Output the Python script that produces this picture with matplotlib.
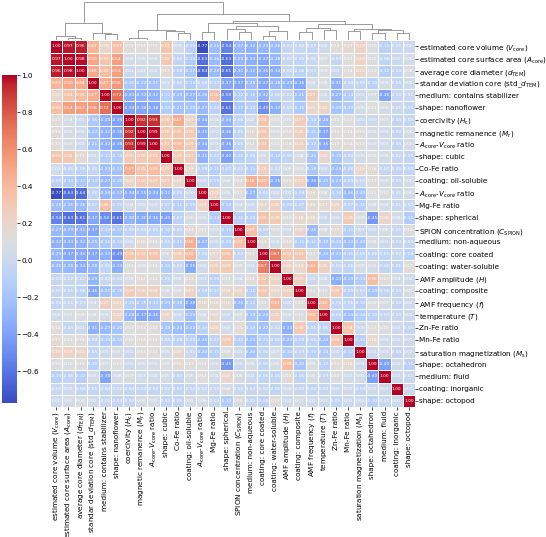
import numpy as np
import matplotlib
matplotlib.use("Agg")
import matplotlib.pyplot as plt
import seaborn as sns

labels = [
    "estimated core volume ($V_{\\mathrm{core}}$)",
    "estimated core surface area ($A_{\\mathrm{core}}$)",
    "average core diameter ($d_{\\mathrm{TEM}}$)",
    "standar deviation core (std_$d_{\\mathrm{TEM}}$)",
    "medium: contains stabilizer",
    "shape: nanoflower",
    "coercivity ($H_{\\mathrm{c}}$)",
    "magnetic remanence ($M_{\\mathrm{r}}$)",
    "$A_{\\mathrm{core}}$-$V_{\\mathrm{core}}$ ratio",
    "shape: cubic",
    "Co-Fe ratio",
    "coating: oil-soluble",
    "$A_{\\mathrm{core}}$-$V_{\\mathrm{core}}$ ratio",
    "Mg-Fe ratio",
    "shape: spherical",
    "SPION concentration ($C_{\\mathrm{SPION}}$)",
    "medium: non-aqueous",
    "coating: core coated",
    "coating: water-soluble",
    "AMF amplitude ($H$)",
    "coating: composite",
    "AMF frequency ($f$)",
    "temperature ($T$)",
    "Zn-Fe ratio",
    "Mn-Fe ratio",
    "saturation magnetization ($M_{\\mathrm{s}}$)",
    "shape: octahedron",
    "medium: fluid",
    "coating: inorganic",
    "shape: octopod",
]

# lower triangle of the correlation matrix, row i holds columns 0..i-1
lower = [
    [],
    [0.97],
    [0.96, 0.98],
    [0.43, 0.50, 0.48],
    [0.20, 0.33, 0.38, 0.47],
    [0.37, 0.54, 0.53, 0.56, 0.72],
    [0.13, 0.04, 0.01, -0.16, -0.33, -0.39],
    [0.14, 0.05, 0.03, -0.22, -0.32, -0.38, 0.92],
    [0.13, 0.05, 0.02, -0.21, -0.32, -0.38, 0.93, 0.99],
    [0.33, 0.32, 0.17, 0.03, -0.12, -0.13, 0.30, 0.30, 0.31],
    [0.03, -0.05, -0.08, -0.05, -0.23, -0.21, 0.47, 0.35, 0.39, 0.29],
    [-0.09, -0.13, -0.17, -0.14, -0.27, -0.20, 0.21, 0.30, 0.29, 0.27, 0.19],
    [-0.77, -0.63, -0.64, -0.06, -0.28, -0.27, -0.34, -0.35, -0.34, -0.31, -0.08, 0.00],
    [-0.25, -0.26, -0.26, -0.07, 0.36, -0.09, 0.04, 0.02, 0.03, -0.07, -0.11, -0.09, 0.23],
    [-0.54, -0.63, -0.61, -0.37, -0.50, -0.61, -0.30, -0.36, -0.36, -0.40, -0.07, 0.06, 0.05, -0.14],
    [-0.27, -0.29, -0.31, -0.37, -0.12, -0.17, -0.06, -0.05, -0.06, -0.10, -0.03, 0.14, 0.11, 0.04,
     -0.11],
    [-0.32, -0.33, -0.32, -0.25, -0.16, -0.12, 0.02, 0.16, 0.12, -0.06, -0.11, 0.46, -0.27, 0.00,
     -0.10, 0.37],
    [-0.29, -0.37, -0.36, -0.37, -0.32, -0.49, 0.34, 0.32, 0.33, 0.06, 0.28, 0.40, -0.06, 0.17,
     0.35, -0.04, 0.13],
    [-0.26, -0.28, -0.34, -0.28, -0.06, -0.33, 0.11, 0.09, 0.11, -0.14, -0.02, -0.35, 0.02, 0.25,
     0.29, 0.09, 0.04, 0.67],
    [-0.03, -0.02, -0.02, -0.29, -0.02, -0.03, 0.10, 0.14, 0.13, -0.06, 0.06, 0.13, 0.01, -0.09,
     0.11, 0.04, 0.14, 0.32, 0.22],
    [-0.02, -0.05, -0.08, -0.36, -0.21, -0.15, 0.27, 0.26, 0.24, 0.08, 0.09, 0.23, -0.08, -0.07,
     0.18, 0.20, -0.11, 0.31, 0.19, 0.25],
    [-0.05, -0.01, -0.03, 0.04, 0.27, 0.21, -0.10, -0.15, -0.12, -0.20, -0.18, -0.38, 0.16, 0.16,
     0.16, -0.26, -0.12, 0.12, 0.43, 0.00, 0.12],
    [0.02, 0.07, 0.09, 0.08, 0.05, 0.22, -0.28, -0.37, -0.36, 0.20, 0.00, -0.23, 0.08, 0.17,
     0.00, 0.08, -0.19, -0.24, 0.25, 0.04, 0.10, 0.40],
    [0.14, -0.03, 0.01, -0.31, -0.27, -0.20, 0.11, 0.13, 0.13, -0.19, -0.24, -0.23, -0.10, 0.20,
     0.03, 0.15, -0.13, -0.22, -0.02, -0.33, 0.30, -0.06, -0.06],
    [0.17, 0.11, 0.14, -0.04, -0.14, -0.13, 0.12, 0.14, 0.14, -0.04, -0.08, -0.09, -0.26, -0.07,
     0.29, -0.11, -0.24, -0.11, -0.06, -0.24, -0.09, -0.06, -0.24, 0.34],
    [0.23, 0.23, 0.21, -0.05, 0.01, 0.05, 0.01, 0.13, 0.13, 0.05, 0.19, -0.01, -0.20, -0.11,
     0.09, 0.01, -0.20, -0.06, 0.07, -0.13, -0.03, -0.10, -0.14, 0.00, -0.12],
    [0.10, 0.10, 0.12, -0.10, 0.07, 0.11, 0.00, 0.05, 0.05, 0.09, 0.16, 0.13, 0.12, 0.06,
     -0.45, 0.00, 0.06, -0.06, 0.05, 0.38, -0.20, 0.09, -0.10, 0.13, 0.18, 0.01],
    [-0.10, -0.06, -0.12, 0.05, -0.38, 0.06, 0.07, 0.03, 0.03, 0.05, -0.03, 0.06, 0.12, 0.04,
     0.20, 0.06, 0.01, -0.06, -0.06, 0.13, -0.06, 0.07, -0.03, 0.10, 0.03, 0.03, -0.40],
    [-0.01, 0.00, -0.04, -0.05, -0.04, -0.01, -0.04, -0.04, -0.04, -0.02, -0.05, -0.03, -0.01, -0.01,
     0.06, -0.01, -0.03, -0.02, -0.06, 0.04, -0.03, -0.04, -0.03, 0.01, 0.02, -0.04, 0.02, 0.01],
    [0.00, 0.05, 0.08, 0.02, -0.01, -0.04, -0.03, 0.06, 0.05, -0.04, -0.05, 0.05, 0.06, -0.02,
     -0.14, 0.10, -0.03, -0.08, 0.13, 0.02, 0.07, 0.02, 0.01, -0.05, 0.01, 0.02, -0.10, -0.01, 0.01],
]

# dendrogram merges: (left, right, height); new node ids start at 30
merges = [
    (1, 2, 0.07), (0, 30, 0.10), (4, 5, 0.16), (3, 32, 0.19), (31, 33, 0.45),
    (7, 8, 0.02), (6, 35, 0.05), (10, 11, 0.19), (9, 37, 0.25), (36, 38, 0.26),
    (12, 13, 0.23), (15, 16, 0.22), (14, 41, 0.31), (17, 18, 0.10), (43, 19, 0.24),
    (42, 44, 0.38), (40, 45, 0.46), (20, 21, 0.22), (22, 23, 0.26), (47, 48, 0.33),
    (24, 25, 0.24), (26, 27, 0.20), (28, 29, 0.18), (51, 52, 0.28), (50, 53, 0.31),
    (49, 54, 0.42), (46, 55, 0.52), (39, 56, 0.68), (34, 57, 1.0),
]

n = len(labels)
corr = np.eye(n)
for i, row in enumerate(lower):
    for j, v in enumerate(row):
        corr[i, j] = v
        corr[j, i] = v

fig = plt.figure(figsize=(5.46, 5.37), dpi=100)
ax = fig.add_axes([0.092, 0.242, 0.668, 0.683])
cax = fig.add_axes([0.004, 0.25, 0.027, 0.61])
dax = fig.add_axes([0.092, 0.925, 0.668, 0.072])

sns.heatmap(corr, ax=ax, cbar_ax=cax, cmap="coolwarm", vmin=corr.min(), vmax=1.0,
            annot=True, fmt=".2f", annot_kws={"size": 3.2, "color": "white"},
            linewidths=0.5, linecolor="white",
            xticklabels=labels, yticklabels=labels)
ax.yaxis.tick_right()
ax.set_yticklabels(labels, rotation=0, fontsize=5.2)
ax.set_xticklabels(labels, rotation=90, fontsize=5.2)
ax.tick_params(axis="both", length=2, width=0.5, pad=1)
cax.tick_params(labelsize=5.2, length=2, width=0.5, pad=1)
cax.set_yticks(np.arange(-0.6, 1.01, 0.2))
for s in cax.spines.values():
    s.set_visible(False)

# dendrogram
xs = {i: i + 0.5 for i in range(n)}
hs = {i: 0.0 for i in range(n)}
for k, (a, b, h) in enumerate(merges):
    node = n + k
    dax.plot([xs[a], xs[a], xs[b], xs[b]], [hs[a], h, h, hs[b]], color="0.55", lw=0.6)
    xs[node] = (xs[a] + xs[b]) / 2
    hs[node] = h
dax.set_xlim(0, n)
dax.set_ylim(0, 1.02)
dax.axis("off")

fig.savefig("out.png", dpi=100)
